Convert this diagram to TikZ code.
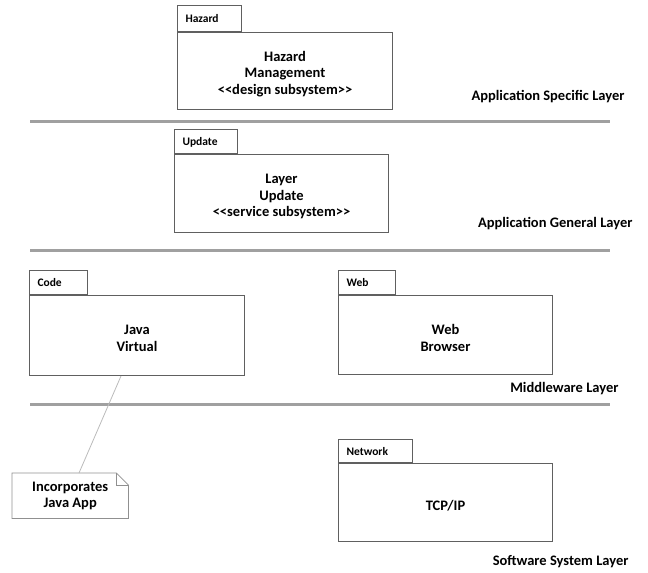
\documentclass[tikz,border=0pt]{standalone}
\usepackage{fontspec}
\setmainfont{Carlito}
\definecolor{boxgray}{HTML}{606060}
\definecolor{rulegray}{HTML}{A0A0A0}
\definecolor{linkgray}{HTML}{BBBBBB}
\tikzset{
  pkgbody/.style={draw=boxgray, line width=1pt, anchor=north west, inner sep=0pt, minimum width=214pt},
  pkgtab/.style={draw=boxgray, line width=1pt, anchor=south west, inner sep=0pt, minimum height=24pt,
    font=\bfseries\fontsize{11.5}{13}\selectfont, text depth=0pt, align=left},
  pkgtext/.style={font=\bfseries\fontsize{14.5}{16.5}\selectfont, align=center, yshift=-3pt},
  layername/.style={anchor=east, font=\bfseries\fontsize{14.5}{16}\selectfont},
  layerrule/.style={draw=rulegray, line width=3pt}
}
\begin{document}
\begin{tikzpicture}[x=1pt,y=-1pt]
            \useasboundingbox (0,0) rectangle (648,573);
            % application specific
            \node[pkgbody, minimum width=215pt, minimum height=77pt] (hazard) at (177,32) {};
            \node[pkgtab, text width=64pt, minimum height=26pt] (hazardtab) at (hazard.north west) {\hspace*{8pt}Hazard};
            \node[pkgtext] at (hazard.center) {Hazard\\Management\\{<}{<}design subsystem{>}{>}};
            \node[layername] (specific) at (628,97) {Application Specific Layer};
            \draw[layerrule] (30,121)--(610,121);
            % application general
            \node[pkgbody, minimum height=78pt] (update) at (174,154) {};
            \node[pkgtab, text width=63pt] (updatetab) at (update.north west) {\hspace*{8pt}Update};
            \node[pkgtext] at (update.center) {Layer\\Update\\{<}{<}service subsystem{>}{>}};
            \node[layername] (general) at (636,224) {Application General Layer};
            \draw[layerrule] (30,250)--(610,250);
            % middleware
            \node[pkgbody, minimum width=215pt, minimum height=80pt] (java) at (29,295) {};
            \node[pkgtab, text width=58pt] (javatab) at (java.north west) {\hspace*{8pt}Code};
            \node[pkgtext] at (java.center) {Java\\Virtual};
            \node[pkgbody, minimum height=79pt] (web) at (338,295) {};
            \node[pkgtab, text width=57pt] (webtab) at (web.north west) {\hspace*{8pt}Web};
            \node[pkgtext] at (web.center) {Web\\Browser};
            \node[layername] (middleware) at (622,389) {Middleware Layer};
            \draw[layerrule] (30,404)--(610,404);
            % software system
            \node[pkgbody, minimum height=78pt] (tcp) at (338,463) {};
            \node[pkgtab, text width=74pt, minimum height=23pt] (tcptab) at (tcp.north west) {\hspace*{8pt}Network};
            \node[pkgtext] at (tcp.center) {TCP/IP};
            \node[layername] (software) at (632,562) {Software System Layer};
            % note
            \node[anchor=north west, minimum width=116pt, minimum height=45pt, inner sep=0pt,
                  font=\bfseries\fontsize{14.5}{16.5}\selectfont, align=center] (note) at (12,473) {Incorporates\\Java App};
            \draw[boxgray!70, line width=0.8pt] (note.north west)--([xshift=-12pt]note.north east)--([yshift=-12pt]note.north east)--(note.south east)--(note.south west)--cycle;
            \draw[boxgray!70, line width=0.8pt] ([xshift=-12pt]note.north east)--([xshift=-12pt,yshift=-12pt]note.north east)--([yshift=-12pt]note.north east);
            \draw[linkgray, line width=0.8pt] ([xshift=92pt]java.south west)--([xshift=67pt]note.north west);
        \end{tikzpicture}
\end{document}
